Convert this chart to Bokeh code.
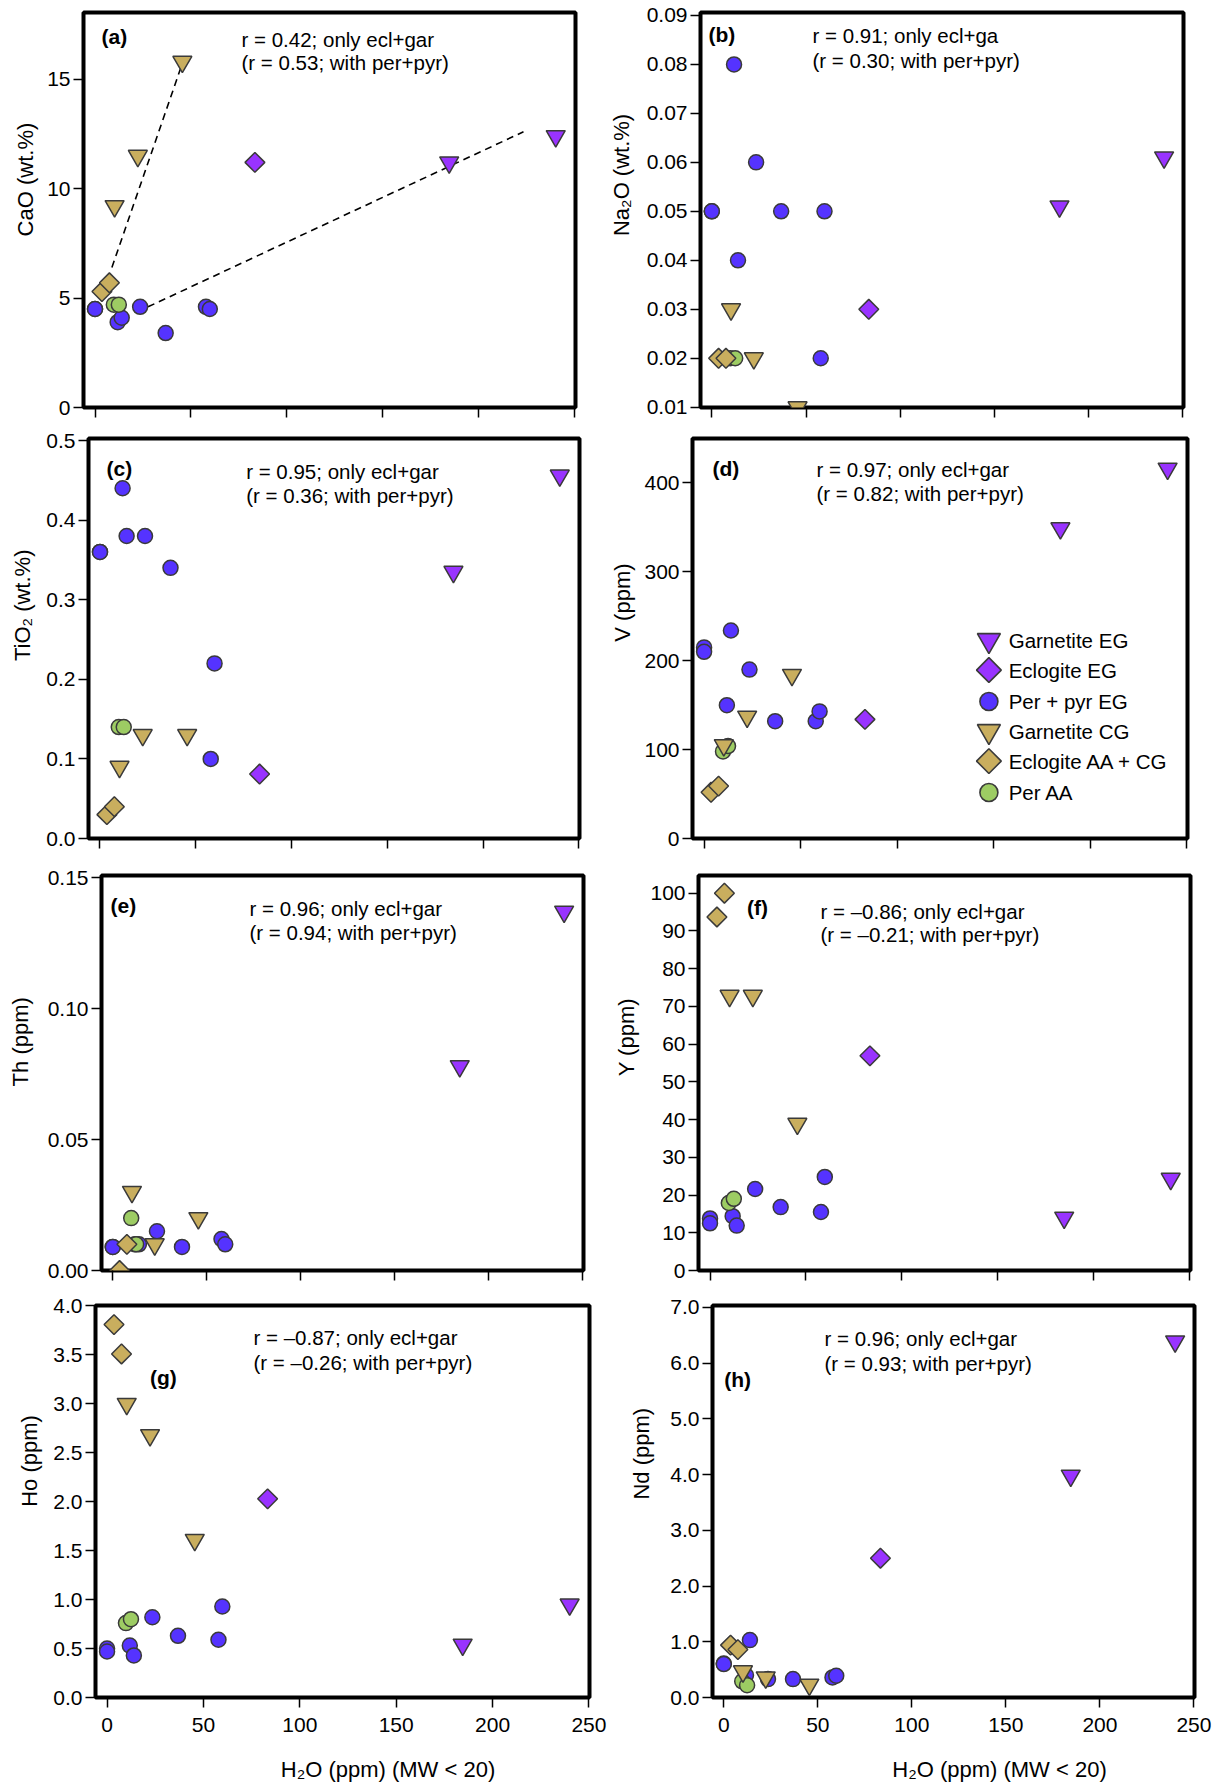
import math
from bokeh.plotting import figure
from bokeh.layouts import row, column
from bokeh.models import Range1d, FixedTicker, PrintfTickFormatter, Label, CustomLabelingPolicy
from bokeh.embed import file_html
from bokeh.resources import INLINE

NAN = float("nan")

# ---------------- data ----------------
group_labels = ["Garnetite EG", "Eclogite EG", "Per + pyr EG",
                "Garnetite CG", "Eclogite AA + CG", "Per AA"]

# H2O (ppm) (MW < 20) of each sample, per group
h2o_gar_eg = [184.5, 240.0]
h2o_ecl_eg = [83.3]
h2o_per_eg = [0.0, 0.0, 11.8, 13.9, 23.5, 36.8, 57.8, 59.8]
h2o_gar_cg = [10.2, 22.3, 45.5]
h2o_ecl_cg = [3.6, 7.5]
h2o_per_aa = [9.8, 12.4]

# (a) CaO (wt.%)
cao_gar_eg = [11.2, 12.4]
cao_ecl_eg = [11.2]
cao_per_eg = [4.5, 4.5, 3.9, 4.1, 4.6, 3.4, 4.6, 4.5]
cao_gar_cg = [9.2, 11.5, 15.8]
cao_ecl_cg = [5.3, 5.7]
cao_per_aa = [4.7, 4.7]
cao_fit1_x = [8.8, 44.6]
cao_fit1_y = [6.4, 15.5]
cao_fit2_x = [27.6, 223.2]
cao_fit2_y = [4.6, 12.6]

# (b) Na2O (wt.%)
na2o_gar_eg = [0.051, 0.061]
na2o_ecl_eg = [0.030]
na2o_per_eg = [0.05, 0.05, 0.08, 0.04, 0.06, 0.05, 0.02, 0.05]
na2o_gar_cg = [0.030, 0.020, 0.010]
na2o_ecl_cg = [0.020, 0.020]
na2o_per_aa = [0.020, 0.020]

# (c) TiO2 (wt.%)
tio2_gar_eg = [0.335, 0.456]
tio2_ecl_eg = [0.081]
tio2_per_eg = [0.36, 0.36, 0.44, 0.38, 0.38, 0.34, 0.10, 0.22]
tio2_gar_cg = [0.09, 0.13, 0.13]
tio2_ecl_cg = [0.03, 0.04]
tio2_per_aa = [0.14, 0.14]

# (d) V (ppm)
v_gar_eg = [349, 416]
v_ecl_eg = [134]
v_per_eg = [215, 210, 150, 234, 190, 132, 132, 143]
v_gar_cg = [105, 137, 184]
v_ecl_cg = [52, 59]
v_per_aa = [98, 104]

# (e) Th (ppm)
th_gar_eg = [0.078, 0.137]
th_ecl_eg = [NAN]
th_per_eg = [0.009, 0.009, 0.010, 0.010, 0.015, 0.009, 0.012, 0.010]
th_gar_cg = [0.030, 0.010, 0.020]
th_ecl_cg = [0.000, 0.010]
th_per_aa = [0.020, 0.010]

# (f) Y (ppm)
y_gar_eg = [14.0, 24.3]
y_ecl_eg = [56.9]
y_per_eg = [13.8, 12.5, 14.4, 11.9, 21.6, 16.8, 15.5, 24.8]
y_gar_cg = [72.8, 72.8, 38.9]
y_ecl_cg = [93.7, 100.0]
y_per_aa = [17.9, 19.0]

# (g) Ho (ppm)
ho_gar_eg = [0.54, 0.95]
ho_ecl_eg = [2.03]
ho_per_eg = [0.50, 0.47, 0.53, 0.43, 0.82, 0.63, 0.59, 0.93]
ho_gar_cg = [3.00, 2.68, 1.61]
ho_ecl_cg = [3.81, 3.51]
ho_per_aa = [0.76, 0.80]

# (h) Nd (ppm)
nd_gar_eg = [3.98, 6.39]
nd_ecl_eg = [2.50]
nd_per_eg = [0.61, 0.60, 0.40, 1.03, 0.33, 0.33, 0.36, 0.39]
nd_gar_cg = [0.47, 0.36, 0.23]
nd_ecl_cg = [0.94, 0.86]
nd_per_aa = [0.29, 0.22]

# ticks
x_ticks = [0, 50, 100, 150, 200, 250]
cao_ticks = [0, 5, 10, 15]
na2o_ticks = [0.01, 0.02, 0.03, 0.04, 0.05, 0.06, 0.07, 0.08, 0.09]
tio2_ticks = [0.0, 0.1, 0.2, 0.3, 0.4, 0.5]
v_ticks = [0, 100, 200, 300, 400]
th_ticks = [0.0, 0.05, 0.10, 0.15]
yy_ticks = [0, 10, 20, 30, 40, 50, 60, 70, 80, 90, 100]
ho_ticks = [0.0, 0.5, 1.0, 1.5, 2.0, 2.5, 3.0, 3.5, 4.0]
nd_ticks = [0.0, 1.0, 2.0, 3.0, 4.0, 5.0, 6.0, 7.0]

# ---------------- styles / layout ----------------
FONT = "Liberation Sans"
PURPLE = "#9933ff"
BLUE = "#5533ff"
TAN = "#c9ae5e"
GREEN = "#9dcc63"
EDGE = "#3a3a3a"

ROW_TOP = [0, 428, 862, 1292]
ROW_H = [428, 434, 430, 464]
XT_TOP, XT_H = 1756, 27
STRIP_L = 43            # left title strip width
MID = 608               # start of right column
STRIP_R = [32, 32, 37, 54]
RIGHT_END = 1224
X0, X1 = -6.0, 250.3

HIDE_LABELS = CustomLabelingPolicy(code="""
for (const i of indices)
  indices.unset(i)
""")


def make_panel(fig_left, fig_w, r, fl, ft, fw, fh, y0, y1, yticks, yfmt, bottom):
    bl = fl - fig_left
    bt = ft - ROW_TOP[r]
    br = fig_w - bl - fw
    bb = ROW_H[r] - bt - fh
    p = figure(width=fig_w, height=ROW_H[r],
               x_range=Range1d(X0, X1), y_range=Range1d(y0, y1),
               min_border_left=bl, min_border_right=br,
               min_border_top=bt, min_border_bottom=bb,
               output_backend="svg", toolbar_location=None, tools="")
    p.background_fill_color = "white"
    p.border_fill_color = "white"
    p.outline_line_color = "black"
    p.outline_line_width = 4
    p.xgrid.visible = False
    p.ygrid.visible = False
    for ax in (p.xaxis[0], p.yaxis[0]):
        ax.axis_line_color = None
        ax.major_tick_in = 0
        ax.major_tick_out = 10
        ax.major_tick_line_width = 1.5
        ax.major_tick_line_color = "black"
        ax.minor_tick_line_color = None
        ax.major_label_text_font = FONT
        ax.major_label_text_font_size = "21px"
        ax.major_label_text_color = "black"
    p.xaxis.ticker = FixedTicker(ticks=x_ticks)
    p.yaxis.ticker = FixedTicker(ticks=yticks)
    if yfmt:
        p.yaxis.formatter = PrintfTickFormatter(format=yfmt)
    p.yaxis.major_label_standoff = 3
    if bottom:
        p.xaxis.major_label_standoff = 10
    else:
        p.xaxis.major_label_policy = HIDE_LABELS
        p.xaxis.major_label_text_font_size = "1px"
        p.xaxis.major_label_standoff = 0

    def to_data(px, py):
        return (X0 + (px - fl) * (X1 - X0) / fw,
                y1 - (py - ft) * (y1 - y0) / fh)
    return p, to_data


def make_strip(w, h):
    s = figure(width=w, height=h, x_range=Range1d(0, w), y_range=Range1d(h, 0),
               min_border=0, x_axis_location=None, y_axis_location=None,
               output_backend="svg", toolbar_location=None, tools="")
    s.outline_line_color = None
    s.background_fill_color = "white"
    s.border_fill_color = "white"
    s.xgrid.visible = False
    s.ygrid.visible = False
    return s


def add_text(p, to_data, px, py, s, size="20.5px", bold=False, angle=0.0, align="left"):
    x, y = to_data(px, py)
    p.add_layout(Label(x=x, y=y, text=s, text_font=FONT, text_font_size=size,
                       text_font_style="bold" if bold else "normal",
                       text_baseline="middle", text_align=align, angle=angle,
                       text_color="black"))


def strip_title(s, sx0, sy0, px, py, text, vertical=True):
    s.add_layout(Label(x=px - sx0, y=py - sy0, text=text, text_font=FONT,
                       text_font_size="22px", text_baseline="middle",
                       text_align="center", angle=math.pi / 2 if vertical else 0.0,
                       text_color="black"))


def draw_points(p, per_eg, per_aa, ecl_cg, gar_cg, ecl_eg, gar_eg):
    kw = dict(line_color=EDGE, line_width=1.5)
    p.scatter(h2o_per_eg, per_eg, marker="circle", size=15, fill_color=BLUE, **kw)
    p.scatter(h2o_per_aa, per_aa, marker="circle", size=15, fill_color=GREEN, **kw)
    p.scatter(h2o_ecl_cg, ecl_cg, marker="square", angle=math.pi / 4, size=14, fill_color=TAN, **kw)
    p.scatter(h2o_gar_cg, gar_cg, marker="inverted_triangle", size=19, fill_color=TAN, **kw)
    p.scatter(h2o_ecl_eg, ecl_eg, marker="square", angle=math.pi / 4, size=14, fill_color=PURPLE, **kw)
    p.scatter(h2o_gar_eg, gar_eg, marker="inverted_triangle", size=19, fill_color=PURPLE, **kw)


def annotate(p, td, tag, tag_xy, l1, l2, lx, ly1, ly2):
    add_text(p, td, tag_xy[0], tag_xy[1], tag, size="21px", bold=True)
    add_text(p, td, lx, ly1, l1)
    add_text(p, td, lx, ly2, l2)


LW = MID - STRIP_L
def RW(r):
    return RIGHT_END - MID - STRIP_R[r]

XTITLE = "H\u2082O (ppm) (MW < 20)"

# (a)
pa, ta = make_panel(STRIP_L, LW, 0, 83, 12, 492, 403, 0.0, 18.05, cao_ticks, None, False)
pa.line(cao_fit1_x, cao_fit1_y, line_color="black", line_width=1.6, line_dash="7 5")
pa.line(cao_fit2_x, cao_fit2_y, line_color="black", line_width=1.6, line_dash="7 5")
draw_points(pa, cao_per_eg, cao_per_aa, cao_ecl_cg, cao_gar_cg, cao_ecl_eg, cao_gar_eg)
annotate(pa, ta, "(a)", (101, 36.7), "r = 0.42; only ecl+gar", "(r = 0.53; with per+pyr)",
         241, 39.3, 63.3)

# (b)
pb, tb = make_panel(MID + STRIP_R[0], RW(0), 0, 700, 10, 483, 397, 0.00995, 0.0906, na2o_ticks, "%.2f", False)
draw_points(pb, na2o_per_eg, na2o_per_aa, na2o_ecl_cg, na2o_gar_cg, na2o_ecl_eg, na2o_gar_eg)
annotate(pb, tb, "(b)", (708, 31.7), "r = 0.91; only ecl+ga", "(r = 0.30; with per+pyr)",
         812, 33.3, 58.3)

# (c)
pc, tc = make_panel(STRIP_L, LW, 1, 87, 438, 492, 404, 0.0, 0.5025, tio2_ticks, "%.1f", False)
draw_points(pc, tio2_per_eg, tio2_per_aa, tio2_ecl_cg, tio2_gar_cg, tio2_ecl_eg, tio2_gar_eg)
annotate(pc, tc, "(c)", (105, 468), "r = 0.95; only ecl+gar", "(r = 0.36; with per+pyr)",
         245, 471.7, 496)

# (d)
pd_, tdd = make_panel(MID + STRIP_R[1], RW(1), 1, 692, 435, 495, 403, 0.0, 450.0, v_ticks, None, False)
draw_points(pd_, v_per_eg, v_per_aa, v_ecl_cg, v_gar_cg, v_ecl_eg, v_gar_eg)
annotate(pd_, tdd, "(d)", (712, 465), "r = 0.97; only ecl+gar", "(r = 0.82; with per+pyr)",
         816, 466.7, 490.7)
# legend of (d)
leg_rows = [638.3, 668.3, 700.0, 730.0, 760.0, 791.7]
leg_style = [("inverted_triangle", 23, 0.0, PURPLE),
             ("square", 17.5, math.pi / 4, PURPLE),
             ("circle", 18, 0.0, BLUE),
             ("inverted_triangle", 23, 0.0, TAN),
             ("square", 17.5, math.pi / 4, TAN),
             ("circle", 18, 0.0, GREEN)]
for lab, py, (mk, sz, ang, col) in zip(group_labels, leg_rows, leg_style):
    mx, my = tdd(988.4, py)
    pd_.scatter([mx], [my], marker=mk, size=sz, angle=ang, fill_color=col,
                line_color=EDGE, line_width=1.6)
    add_text(pd_, tdd, 1008.2, py, lab, size="20.5px")

# (e)
pe, te = make_panel(STRIP_L, LW, 2, 101, 875, 482, 397, 0.0, 0.1508, th_ticks, "%.2f", False)
draw_points(pe, th_per_eg, th_per_aa, th_ecl_cg, th_gar_cg, th_ecl_eg, th_gar_eg)
annotate(pe, te, "(e)", (110, 905), "r = 0.96; only ecl+gar", "(r = 0.94; with per+pyr)",
         249, 908.3, 932.7)

# (f)
pf, tf = make_panel(MID + STRIP_R[2], RW(2), 2, 698, 867, 492, 403, 0.0, 104.7, yy_ticks, None, False)
draw_points(pf, y_per_eg, y_per_aa, y_ecl_cg, y_gar_cg, y_ecl_eg, y_gar_eg)
annotate(pf, tf, "(f)", (746.5, 899.3), "r = \u20130.86; only ecl+gar", "(r = \u20130.21; with per+pyr)",
         820, 903.3, 926.7)

# (g)
pg, tg = make_panel(STRIP_L, LW, 3, 95, 1305, 494, 404, 0.0, 4.005, ho_ticks, "%.1f", True)
draw_points(pg, ho_per_eg, ho_per_aa, ho_ecl_cg, ho_gar_cg, ho_ecl_eg, ho_gar_eg)
annotate(pg, tg, "(g)", (149.5, 1379.3), "r = \u20130.87; only ecl+gar", "(r = \u20130.26; with per+pyr)",
         253, 1338.3, 1363.3)

# (h)
ph, th = make_panel(MID + STRIP_R[3], RW(3), 3, 712, 1300, 482, 397, 0.0, 7.035, nd_ticks, "%.1f", True)
draw_points(ph, nd_per_eg, nd_per_aa, nd_ecl_cg, nd_gar_cg, nd_ecl_eg, nd_gar_eg)
annotate(ph, th, "(h)", (723.7, 1375), "r = 0.96; only ecl+gar", "(r = 0.93; with per+pyr)",
         824, 1333.3, 1358.3)

# axis-title strips
y_titles = [("CaO (wt.%)", (24.5, 181)), ("Na\u2082O (wt.%)", (620.5, 176)),
            ("TiO\u2082 (wt.%)", (21.7, 609)), ("V (ppm)", (621.8, 606)),
            ("Th (ppm)", (19.8, 1043)), ("Y (ppm)", (625.7, 1038)),
            ("Ho (ppm)", (28.5, 1476)), ("Nd (ppm)", (641.4, 1467.5))]
panels = [(pa, pb), (pc, pd_), (pe, pf), (pg, ph)]
rows = []
for r in range(4):
    sl = make_strip(STRIP_L, ROW_H[r])
    sr = make_strip(STRIP_R[r], ROW_H[r])
    tl, pl = y_titles[2 * r]
    trr, prr = y_titles[2 * r + 1]
    strip_title(sl, 0, ROW_TOP[r], pl[0], pl[1], tl)
    strip_title(sr, MID, ROW_TOP[r], prr[0], prr[1], trr)
    rows.append(row(sl, panels[r][0], sr, panels[r][1]))

xl = make_strip(MID, XT_H)
xr = make_strip(RIGHT_END - MID, XT_H)
strip_title(xl, 0, XT_TOP, 387.5, 1769, XTITLE, vertical=False)
strip_title(xr, MID, XT_TOP, 999, 1769, XTITLE, vertical=False)
rows.append(row(xl, xr))

layout = column(*rows)

open("out.html", "w").write(file_html(layout, INLINE))
